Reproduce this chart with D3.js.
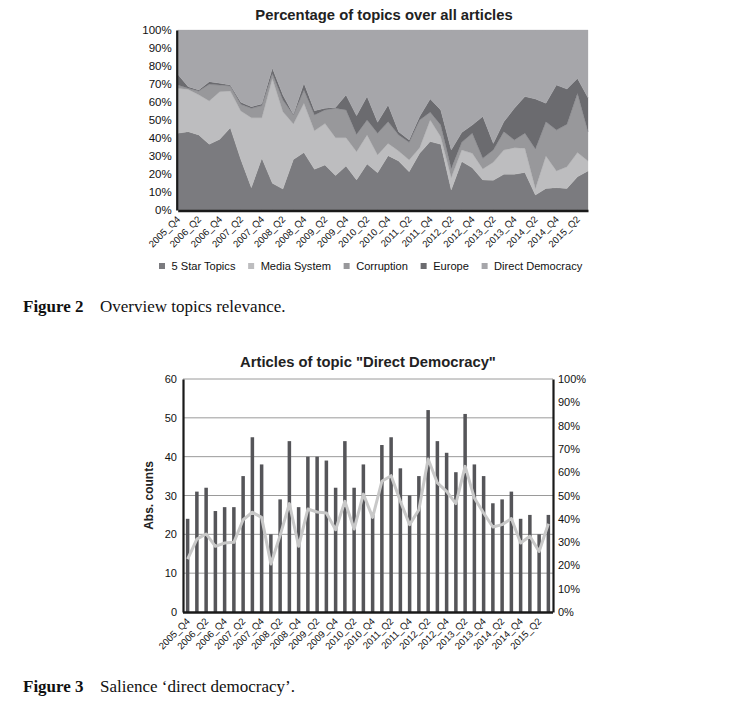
<!DOCTYPE html>
<html><head><meta charset="utf-8">
<script src="https://cdn.jsdelivr.net/npm/d3@7"></script>
<style>
body{margin:0;background:#fff;}
svg{display:block;}
</style></head>
<body>
<svg id="c" width="735" height="711"></svg>
<script>
const quarters = ["2005_Q4","2006_Q1","2006_Q2","2006_Q3","2006_Q4","2007_Q1","2007_Q2","2007_Q3","2007_Q4","2008_Q1","2008_Q2","2008_Q3","2008_Q4","2009_Q1","2009_Q2","2009_Q3","2009_Q4","2010_Q1","2010_Q2","2010_Q3","2010_Q4","2011_Q1","2011_Q2","2011_Q3","2011_Q4","2012_Q1","2012_Q2","2012_Q3","2012_Q4","2013_Q1","2013_Q2","2013_Q3","2013_Q4","2014_Q1","2014_Q2","2014_Q3","2014_Q4","2015_Q1","2015_Q2","2015_Q3"];

// Figure 2: share (%) of each topic per quarter (stacked to 100%)
const fiveStar = [42.6,43.5,41.7,36.5,39.3,45.7,28.0,12.4,28.7,14.8,11.7,28.1,31.9,22.6,25.0,19.1,24.4,16.7,25.6,20.7,30.2,27.2,21.3,31.5,38.0,36.5,11.1,26.9,23.5,16.7,16.5,19.8,19.8,20.9,8.3,12.0,12.4,12.0,18.5,21.7];
const mediaSystem = [25.0,23.5,22.3,24.1,26.4,20.4,27.0,38.9,22.6,58.3,42.9,19.7,27.4,21.4,23.0,21.1,15.8,15.7,16.1,9.9,6.8,5.6,6.5,3.1,12.0,4.2,6.9,6.4,8.0,6.1,10.0,13.5,14.8,13.4,3.7,18.0,9.3,12.0,13.4,5.5];
const corruption = [1.8,0.6,2.1,9.2,3.7,2.8,3.7,5.2,6.7,2.8,6.5,5.0,7.4,8.8,7.6,16.3,15.4,9.6,8.3,12.0,12.0,8.9,9.8,15.4,4.3,6.5,5.1,4.3,11.1,5.9,6.8,10.2,4.3,8.3,21.9,19.0,22.7,23.6,32.9,16.3];
const europe = [6.0,0.9,0.6,1.5,1.0,0.5,1.1,0.9,0.9,2.8,2.8,0.3,3.7,2.4,0.9,0.5,8.3,10.4,13.0,6.1,9.3,1.8,1.3,1.9,7.4,8.4,10.2,5.5,4.6,23.2,3.7,5.5,17.6,20.4,27.8,10.3,25.0,19.6,8.3,18.9];
const directDemocracy = [24.6,31.5,33.3,28.7,29.6,30.6,40.2,42.6,41.1,21.3,36.1,46.9,29.6,44.8,43.5,43.0,36.1,47.6,37.0,51.3,41.7,56.5,61.1,48.1,38.3,44.4,66.7,56.9,52.8,48.1,63.0,51.0,43.5,37.0,38.3,40.7,30.6,32.8,26.9,37.6];
const topicNames = ["5 Star Topics","Media System","Corruption","Europe","Direct Democracy"];
const topicColors = ["#7b7b7f","#bdbdbf","#98989b","#6b6b6f","#a6a6aa"];
const pctTicks = [0,10,20,30,40,50,60,70,80,90,100];

// Figure 3: absolute counts and share of "Direct Democracy"
const ddCounts = [24,31,32,26,27,27,35,45,38,20,29,44,27,40,40,39,32,44,32,38,25,43,45,37,30,35,52,44,41,36,51,38,35,28,29,31,24,25,20,25];
const ddShare = [22.7,31.3,33.5,28.2,29.6,29.9,39.6,42.8,40.6,20.6,32.9,46.5,28.2,44.2,42.9,42.5,35.3,47.5,35.6,50.6,40.6,56.1,58.5,47.5,37.5,43.9,65.7,55.4,51.8,46.5,62.5,48.9,42.5,36.5,37.5,40.1,29.6,32.5,26.0,37.9];
const countTicks = [0,10,20,30,40,50,60];

const svg = d3.select("#c");
svg.append("rect").attr("width",735).attr("height",711).attr("fill","#fff");
const FONT = "Arial, 'Liberation Sans', Helvetica, sans-serif";
const SERIF = "'Liberation Serif', 'Times New Roman', serif";

// ---------- Figure 2 ----------
(function(){
  const x = d3.scalePoint().domain(quarters).range([177.7, 588]);
  const y = d3.scaleLinear().domain([0,100]).range([210,30]);
  const table = quarters.map((q,i)=>({q, s0:fiveStar[i], s1:mediaSystem[i], s2:corruption[i], s3:europe[i], s4:directDemocracy[i]}));
  const keys = ["s0","s1","s2","s3","s4"];
  const stack = d3.stack().keys(keys).offset(d3.stackOffsetExpand);
  const series = stack(table);
  const area = d3.area().x(d=>x(d.data.q)).y0(d=>y(d[0]*100)).y1(d=>y(d[1]*100));
  const g = svg.append("g");
  g.selectAll("path.layer").data(series).join("path").attr("class","layer")
    .attr("d",area).attr("fill",(d,i)=>topicColors[i]).attr("stroke",(d,i)=>topicColors[i]).attr("stroke-width",0.3);

  const yAxis = d3.axisLeft(y).tickValues(pctTicks).tickFormat(d=>d+"%").tickSize(0).tickPadding(5);
  const ga = g.append("g").attr("transform","translate(176.7,0)").call(yAxis);
  ga.select(".domain").attr("stroke","#1a1a1a").attr("stroke-width",2.2);
  ga.selectAll("text").attr("font-family",FONT).attr("font-size",11.5).attr("fill","#111");
  const xAxis = d3.axisBottom(x).tickValues(quarters.filter((q,i)=>i%2===0)).tickSize(0).tickPadding(0);
  const gx = g.append("g").attr("transform","translate(0,210.5)").call(xAxis);
  gx.select(".domain").attr("stroke","#1a1a1a").attr("stroke-width",2.4);
  gx.selectAll("text").attr("font-family",FONT).attr("font-size",9.6).attr("fill","#111")
    .attr("text-anchor","end").attr("dy",0).attr("y",0)
    .attr("transform","translate(2.5,9.5) rotate(-45)");

  svg.append("text").attr("x",384).attr("y",19.5).attr("text-anchor","middle")
    .attr("font-family",FONT).attr("font-weight","bold").attr("font-size",14.8).attr("fill","#222")
    .text("Percentage of topics over all articles");

  let cx = 159;
  const lg = svg.append("g");
  topicNames.forEach((n,i)=>{
    lg.append("rect").attr("x",cx).attr("y",263).attr("width",6).attr("height",6).attr("fill",topicColors[i]);
    const t = lg.append("text").attr("x",cx+12.5).attr("y",270).attr("font-family",FONT).attr("font-size",11.1).attr("fill","#111").text(n);
    cx = cx + 12.5 + t.node().getComputedTextLength() + 12.7;
  });

  const cap = svg.append("text").attr("x",23).attr("y",312).attr("font-family",SERIF).attr("font-size",17).attr("fill","#111");
  cap.append("tspan").attr("font-weight","bold").text("Figure 2");
  cap.append("tspan").attr("x",100).text("Overview topics relevance.");
})();

// ---------- Figure 3 ----------
(function(){
  const x = d3.scaleBand().domain(quarters).range([183, 553]).paddingInner(0.62).paddingOuter(0.31);
  const yL = d3.scaleLinear().domain([0,60]).range([612,379]);
  const yR = d3.scaleLinear().domain([0,100]).range([612,379]);
  const g = svg.append("g");
  g.selectAll("line.grid").data(countTicks.filter(d=>d>0)).join("line").attr("class","grid")
    .attr("x1",183).attr("x2",553).attr("y1",d=>yL(d)).attr("y2",d=>yL(d))
    .attr("stroke","#9a9a9a").attr("stroke-width",1);
  g.selectAll("rect.bar").data(ddCounts).join("rect").attr("class","bar")
    .attr("x",(d,i)=>x(quarters[i])).attr("width",x.bandwidth())
    .attr("y",d=>yL(d)).attr("height",d=>yL(0)-yL(d)).attr("fill","#555559");
  const line = d3.line().x((d,i)=>x(quarters[i])+x.bandwidth()/2).y(d=>yR(d));
  g.append("path").datum(ddShare).attr("d",line).attr("fill","none")
    .attr("stroke","#c8c8c8").attr("stroke-width",3).attr("stroke-linejoin","round");

  const axL = d3.axisLeft(yL).tickValues(countTicks).tickSize(0).tickPadding(6);
  const gl = g.append("g").attr("transform","translate(183,0)").call(axL);
  gl.select(".domain").attr("stroke","#1a1a1a").attr("stroke-width",2.2);
  gl.selectAll("text").attr("font-family",FONT).attr("font-size",11).attr("fill","#111");
  const axR = d3.axisRight(yR).tickValues(pctTicks).tickFormat(d=>d+"%").tickSize(0).tickPadding(5);
  const gr = g.append("g").attr("transform","translate(553,0)").call(axR);
  gr.select(".domain").attr("stroke","#1a1a1a").attr("stroke-width",2.2);
  gr.selectAll("text").attr("font-family",FONT).attr("font-size",11).attr("fill","#111");
  const xBand = d3.scalePoint().domain(quarters).range([x(quarters[0])+x.bandwidth()/2, x(quarters[39])+x.bandwidth()/2]);
  const axB = d3.axisBottom(xBand).tickValues(quarters.filter((q,i)=>i%2===0)).tickSize(0).tickPadding(0);
  const gb = g.append("g").attr("transform","translate(0,612.5)").call(axB);
  gb.select(".domain").attr("stroke","#1a1a1a").attr("stroke-width",2.4).attr("d","M183,0H553");
  gb.selectAll("text").attr("font-family",FONT).attr("font-size",9.6).attr("fill","#111")
    .attr("text-anchor","end").attr("dy",0).attr("y",0)
    .attr("transform","translate(2.5,9.5) rotate(-45)");

  svg.append("text").attr("x",368).attr("y",367).attr("text-anchor","middle")
    .attr("font-family",FONT).attr("font-weight","bold").attr("font-size",14.8).attr("fill","#222")
    .text('Articles of topic "Direct Democracy"');
  svg.append("text").attr("transform","translate(153,495.5) rotate(-90)").attr("text-anchor","middle")
    .attr("font-family",FONT).attr("font-weight","bold").attr("font-size",12).attr("fill","#222")
    .text("Abs. counts");

  const cap = svg.append("text").attr("x",23).attr("y",692).attr("font-family",SERIF).attr("font-size",17).attr("fill","#111");
  cap.append("tspan").attr("font-weight","bold").text("Figure 3");
  cap.append("tspan").attr("x",100).text("Salience \u2018direct democracy\u2019.");
})();
</script>
</body></html>
